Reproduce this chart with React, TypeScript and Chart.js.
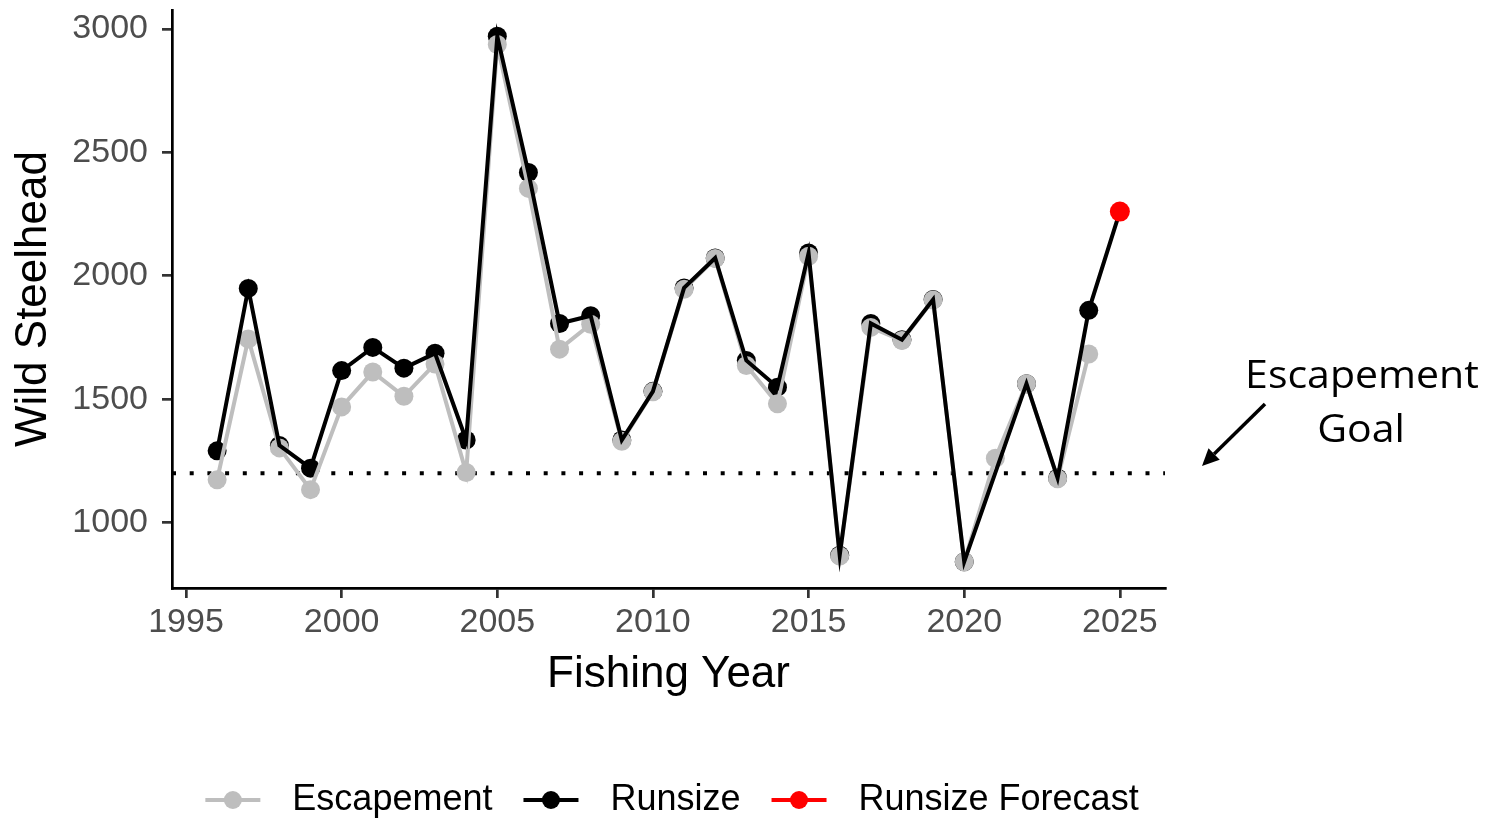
import React, { useEffect, useRef } from "react";
import { Chart, registerables } from "chart.js";

Chart.register(...registerables);

// ---------- data ----------
const years = [
  1996, 1997, 1998, 1999, 2000, 2001, 2002, 2003, 2004, 2005,
  2006, 2007, 2008, 2009, 2010, 2011, 2012, 2013, 2014, 2015,
  2016, 2017, 2018, 2019, 2020, 2021, 2022, 2023, 2024, 2025,
];
const escapement: (number | null)[] = [
  1174, 1744, 1303, 1134, 1469, 1610, 1512, 1643, 1203, 2937,
  2354, 1703, 1804, 1330, 1530, 1945, 2070, 1637, 1482, 2079,
  865, 1791, 1738, 1902, 842, 1261, 1563, 1178, 1683, null,
];
const runsize: (number | null)[] = [
  1291, 1949, 1313, 1221, 1616, 1710, 1626, 1686, 1335, 2970,
  2418, 1807, 1838, 1335, 1532, 1951, 2072, 1657, 1549, 2092,
  868, 1807, 1741, 1904, 842, null, 1563, 1181, 1860, null,
];
const runsizeForecast: (number | null)[] = [
  null, null, null, null, null, null, null, null, null, null,
  null, null, null, null, null, null, null, null, null, null,
  null, null, null, null, null, null, null, null, null, 2260,
];
const escapementGoal = 1200;
const xTickValues = [1995, 2000, 2005, 2010, 2015, 2020, 2025];
const yTickValues = [1000, 1500, 2000, 2500, 3000];
const xLimits = [1994.55, 2026.45];
const yLimits = [735.6, 3076.4];
const xTitle = "Fishing Year";
const yTitle = "Wild Steelhead";
const legendLabels = ["Escapement", "Runsize", "Runsize Forecast"];
const annotationLines = ["Escapement", "Goal"];

// ---------- styles ----------
const FONT = "'Liberation Sans', Arial, sans-serif";
const ANNOT_FONT = "'Open Sans', 'Liberation Sans', sans-serif";
const GREY = "#BEBEBE";
const BLACK = "#000000";
const RED = "#FF0000";
const legendColors = [GREY, BLACK, RED];

const toPoints = (vals: (number | null)[]) =>
  years.map((x, i) => ({ x, y: vals[i] }));

const overlayPlugin = {
  id: "overlay",
  afterDraw(chart: any) {
    const ctx: CanvasRenderingContext2D = chart.ctx;
    ctx.save();

    // legend
    ctx.font = `36px ${FONT}`;
    ctx.textBaseline = "middle";
    ctx.textAlign = "left";
    const symW = 55;
    const symGap = 32;
    const itemGap = 31;
    const widths = legendLabels.map((l) => ctx.measureText(l).width);
    const total =
      widths.reduce((a, w) => a + symW + symGap + w, 0) +
      itemGap * (legendLabels.length - 1);
    let x = 672 - total / 2;
    const ly = 800;
    legendLabels.forEach((label, i) => {
      const c = legendColors[i];
      ctx.strokeStyle = c;
      ctx.lineWidth = 4;
      ctx.beginPath();
      ctx.moveTo(x, ly);
      ctx.lineTo(x + symW, ly);
      ctx.stroke();
      ctx.fillStyle = c;
      ctx.beginPath();
      ctx.arc(x + symW / 2, ly, 9, 0, Math.PI * 2);
      ctx.fill();
      ctx.fillStyle = "#000";
      ctx.fillText(label, x + symW + symGap, ly);
      x += symW + symGap + widths[i] + itemGap;
    });

    // annotation text
    ctx.font = `38px ${ANNOT_FONT}`;
    ctx.fillStyle = "#000";
    ctx.textBaseline = "alphabetic";
    ctx.textAlign = "center";
    const baselines = [388, 442];
    const cxs = [1362, 1361];
    annotationLines.forEach((t, i) => {
      ctx.save();
      ctx.translate(cxs[i], baselines[i]);
      ctx.scale(1.08, 1);
      ctx.fillText(t, 0, 0);
      ctx.restore();
    });

    // arrow
    const x0 = 1265, y0 = 404, x1 = 1202, y1 = 466;
    const ang = Math.atan2(y1 - y0, x1 - x0);
    const headLen = 17, headW = 8;
    const bx = x1 - headLen * Math.cos(ang);
    const by = y1 - headLen * Math.sin(ang);
    ctx.strokeStyle = "#000";
    ctx.lineWidth = 3.5;
    ctx.beginPath();
    ctx.moveTo(x0, y0);
    ctx.lineTo(bx, by);
    ctx.stroke();
    ctx.fillStyle = "#000";
    ctx.beginPath();
    ctx.moveTo(x1, y1);
    ctx.lineTo(bx + headW * Math.sin(ang), by - headW * Math.cos(ang));
    ctx.lineTo(bx - headW * Math.sin(ang), by + headW * Math.cos(ang));
    ctx.closePath();
    ctx.fill();

    ctx.restore();
  },
};

export default function App() {
  const canvasRef = useRef<HTMLCanvasElement | null>(null);

  useEffect(() => {
    const canvas = canvasRef.current;
    if (!canvas) return;

    const combinedRunsize = years.map((x, i) => ({
      x,
      y: runsize[i] ?? runsizeForecast[i],
    }));

    const chart = new Chart(canvas, {
      type: "line",
      data: {
        datasets: [
          {
            label: "Goal",
            data: [
              { x: xLimits[0], y: escapementGoal },
              { x: xLimits[1], y: escapementGoal },
            ],
            borderColor: BLACK,
            borderWidth: 4,
            borderDash: [4, 13.7],
            borderCapStyle: "butt",
            pointRadius: 0,
            order: 10,
          },
          {
            label: "Runsize points",
            data: toPoints(runsize),
            showLine: false,
            pointRadius: 9.5,
            pointBorderWidth: 0,
            pointBackgroundColor: BLACK,
            borderColor: BLACK,
            order: 9,
          },
          {
            label: "Escapement",
            data: toPoints(escapement),
            borderColor: GREY,
            borderWidth: 4,
            pointRadius: 9.5,
            pointBorderWidth: 0,
            pointBackgroundColor: GREY,
            spanGaps: false,
            order: 8,
          },
          {
            label: "Runsize",
            data: combinedRunsize,
            borderColor: BLACK,
            borderWidth: 4,
            pointRadius: 0,
            spanGaps: true,
            order: 7,
          },
          {
            label: "Runsize Forecast",
            data: toPoints(runsizeForecast),
            showLine: false,
            pointRadius: 10,
            pointBorderWidth: 0,
            pointBackgroundColor: RED,
            borderColor: RED,
            order: 6,
          },
        ],
      },
      options: {
        responsive: false,
        animation: false,
        devicePixelRatio: 1,
        layout: { padding: { left: 0, top: 7, right: 338, bottom: 110 } },
        plugins: {
          legend: { display: false },
          tooltip: { enabled: false },
        },
        scales: {
          x: {
            type: "linear",
            min: xLimits[0],
            max: xLimits[1],
            border: { display: true, color: BLACK, width: 2.7 },
            grid: {
              display: true,
              drawOnChartArea: false,
              drawTicks: true,
              tickLength: 10,
              color: "#333333",
              lineWidth: 2.7,
            },
            ticks: {
              color: "#4D4D4D",
              font: { family: FONT, size: 34 },
              padding: 4,
              maxRotation: 0,
              callback: (v: any) => String(v),
            },
            afterBuildTicks: (scale: any) => {
              scale.ticks = xTickValues.map((v) => ({ value: v }));
            },
            afterFit: (scale: any) => {
              scale.height = 120;
              scale.paddingLeft = 0;
              scale.paddingRight = 0;
            },
            title: {
              display: true,
              text: xTitle,
              color: BLACK,
              font: { family: FONT, size: 44 },
              padding: { top: 0, bottom: 7 },
            },
          },
          y: {
            type: "linear",
            min: yLimits[0],
            max: yLimits[1],
            border: { display: true, color: BLACK, width: 2.7 },
            grid: {
              display: true,
              drawOnChartArea: false,
              drawTicks: true,
              tickLength: 10,
              color: "#333333",
              lineWidth: 2.7,
            },
            ticks: {
              color: "#4D4D4D",
              font: { family: FONT, size: 34 },
              padding: 14,
              callback: (v: any) => String(v),
            },
            afterBuildTicks: (scale: any) => {
              scale.ticks = yTickValues.map((v) => ({ value: v }));
            },
            afterFit: (scale: any) => {
              scale.width = 172;
              scale.paddingTop = 0;
              scale.paddingBottom = 0;
            },
            title: {
              display: true,
              text: yTitle,
              color: BLACK,
              font: { family: FONT, size: 44 },
              padding: { top: 7, bottom: 0 },
            },
          },
        },
      },
      plugins: [overlayPlugin],
    } as any);

    return () => chart.destroy();
  }, []);

  return (
    <div style={{ position: "absolute", left: 0, top: 0, width: 1503, height: 818, background: "#fff" }}>
      <canvas ref={canvasRef} width={1503} height={818} style={{ display: "block" }} />
    </div>
  );
}
